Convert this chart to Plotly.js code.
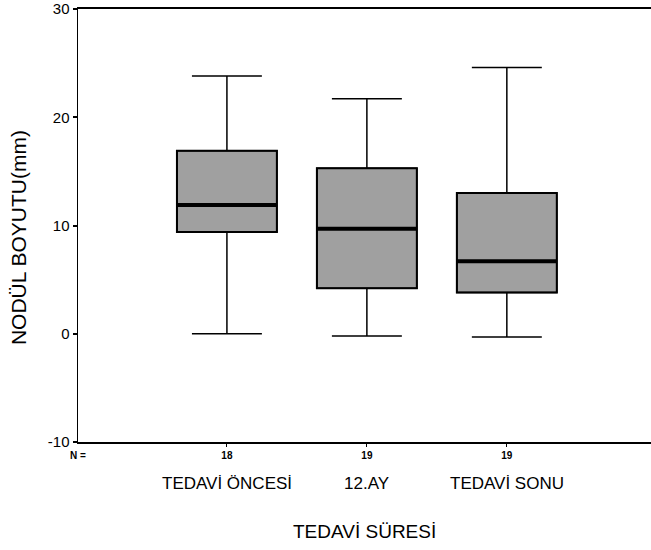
<!DOCTYPE html>
<html>
<head>
<meta charset="utf-8">
<script src="https://cdn.plot.ly/plotly-3.0.1.min.js"></script>
<style>html,body{margin:0;padding:0;background:#fff;}#chart{width:651px;height:550px;}</style>
</head>
<body>
<div id="chart"></div>
<script>
const categories = ["TEDAVİ ÖNCESİ", "12.AY", "TEDAVİ SONU"];
const nCounts = ["18", "19", "19"];
const lowerWhisker = [0.0, -0.2, -0.3];
const q1Values = [9.4, 4.2, 3.8];
const medianValues = [11.9, 9.7, 6.7];
const q3Values = [16.9, 15.3, 13.0];
const upperWhisker = [23.8, 21.7, 24.6];
const yTicks = [-10, 0, 10, 20, 30];
const yTickLabels = ["-10", "0", "10", "20", "30"];

const positions = categories.map((c, i) => i);
const boxWidth = 0.714;
const font = "Arial, 'Liberation Sans', sans-serif";

const trace = {
  type: "box",
  x: positions,
  q1: q1Values,
  median: medianValues,
  q3: q3Values,
  lowerfence: lowerWhisker,
  upperfence: upperWhisker,
  width: boxWidth,
  whiskerwidth: 0.7,
  fillcolor: "#a0a0a0",
  line: {color: "#000", width: 1.5},
  hoverinfo: "skip",
  showlegend: false
};

const shapes = medianValues.map((m, i) => ({
  type: "line", xref: "x", yref: "y",
  x0: positions[i] - boxWidth / 2, x1: positions[i] + boxWidth / 2,
  y0: m, y1: m,
  line: {color: "#000", width: 4}
}));
q1Values.forEach((q, i) => shapes.push({
  type: "rect", xref: "x", yref: "y",
  x0: positions[i] - boxWidth / 2, x1: positions[i] + boxWidth / 2,
  y0: q, y1: q3Values[i],
  line: {color: "#000", width: 2}
}));

const annotations = categories.map((c, i) => ({
  text: c, x: positions[i], xref: "x", y: 0, yref: "paper",
  yanchor: "middle", yshift: -41, showarrow: false,
  font: {family: font, size: 17, color: "#000"}
}));
annotations.push({
  text: "<b>N =</b>", x: 0, xref: "paper", y: 0, yref: "paper",
  xanchor: "center", yanchor: "middle", yshift: -13, showarrow: false,
  font: {family: font, size: 10, color: "#000"}
});
annotations.push({
  text: "TEDAVİ SÜRESİ", x: 0.5, xref: "paper", y: 0, yref: "paper",
  xanchor: "center", yanchor: "middle", yshift: -89, showarrow: false,
  font: {family: font, size: 19, color: "#000"}
});
annotations.push({
  text: "NODÜL BOYUTU(mm)", x: 0, xref: "paper", y: 0.471, yref: "paper",
  xanchor: "center", yanchor: "middle", xshift: -60, textangle: -90, showarrow: false,
  font: {family: font, size: 21, color: "#000"}
});

const layout = {
  width: 651, height: 550,
  margin: {l: 78, r: 0, t: 9, b: 108},
  paper_bgcolor: "#fff", plot_bgcolor: "#fff",
  font: {family: font, color: "#000"},
  xaxis: {
    range: [-1.064, 3.03],
    tickvals: positions,
    ticktext: nCounts.map(n => "<b>" + n + "</b>"),
    tickfont: {family: font, size: 10, color: "#000"},
    ticks: "outside", ticklen: 3, tickcolor: "#000",
    showline: true, linecolor: "#000", linewidth: 2, mirror: true,
    showgrid: false, zeroline: false
  },
  yaxis: {
    range: [-10, 30],
    tickvals: yTicks,
    ticktext: yTickLabels,
    tickfont: {family: font, size: 15, color: "#000"},
    ticks: "outside", ticklen: 4, tickcolor: "#000", tickwidth: 2,
    showline: true, linecolor: "#000", linewidth: 1.5,
    showgrid: false, zeroline: false
  },
  shapes: shapes,
  annotations: annotations
};

Plotly.newPlot("chart", [trace], layout, {displayModeBar: false, staticPlot: true});
</script>
</body>
</html>
